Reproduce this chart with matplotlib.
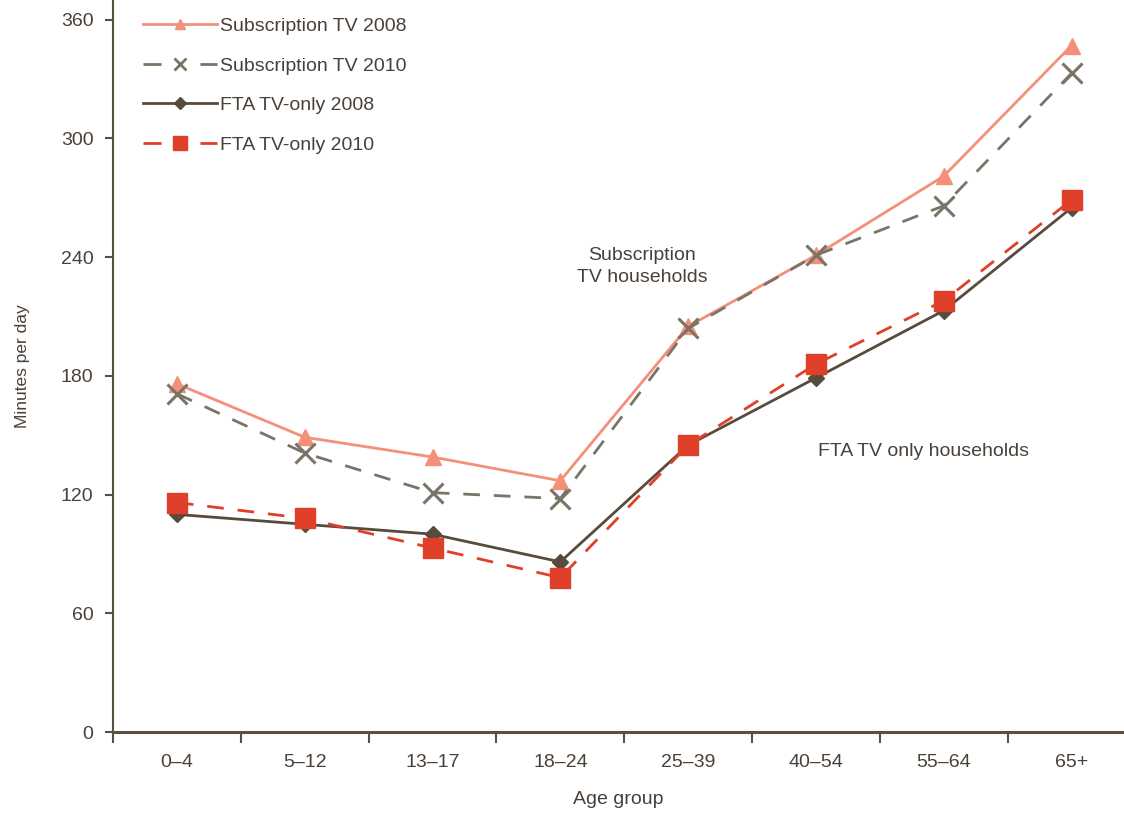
import matplotlib
matplotlib.use("Agg")
import matplotlib.pyplot as plt
from matplotlib.lines import Line2D

categories = ["0–4", "5–12", "13–17", "18–24", "25–39", "40–54", "55–64", "65+"]
sub_2008 = [176, 149, 139, 127, 205, 241, 281, 347]
sub_2010 = [171, 141, 121, 118, 204, 241, 266, 333]
fta_2008 = [110, 105, 100, 86, 145, 179, 213, 265]
fta_2010 = [116, 108, 93, 78, 145, 186, 218, 269]
yticks = [0, 60, 120, 180, 240, 300, 360]
labels = ["Subscription TV 2008", "Subscription TV 2010", "FTA TV-only 2008", "FTA TV-only 2010"]

plt.rcParams["font.family"] = ["Liberation Sans", "DejaVu Sans"]

axis_col = "#5a5040"
text_col = "#4a4038"
c_sub08 = "#f4907a"
c_sub10 = "#7a7468"
c_fta08 = "#574b3e"
c_fta10 = "#e0402a"
fs = 14

fig = plt.figure(figsize=(11.24, 8.13), dpi=100)
ax = fig.add_axes([0.1005, 0.0996, 0.8995, 0.9004])
x = list(range(len(categories)))

ax.plot(x, sub_2008, color=c_sub08, lw=2, marker="^", ms=11, mec=c_sub08, mfc=c_sub08, zorder=3)
ax.plot(x, sub_2010, color=c_sub10, lw=2, dashes=(6, 5), marker="x", ms=14, mew=2.2, zorder=4)
ax.plot(x, fta_2008, color=c_fta08, lw=2, marker="D", ms=8, mec=c_fta08, mfc=c_fta08, zorder=3)
ax.plot(x, fta_2010, color=c_fta10, lw=2, dashes=(6, 5), marker="s", ms=15, mec=c_fta10, mfc=c_fta10, zorder=4)

handles = [
    Line2D([], [], color=c_sub08, lw=2, marker="^", ms=7, mec=c_sub08, mfc=c_sub08),
    Line2D([], [], color=c_sub10, lw=2, dashes=(6.5, 14), marker="x", ms=8, mew=2),
    Line2D([], [], color=c_fta08, lw=2, marker="D", ms=6, mec=c_fta08, mfc=c_fta08),
    Line2D([], [], color=c_fta10, lw=2, dashes=(6.5, 14), marker="s", ms=10, mec=c_fta10, mfc=c_fta10),
]

ax.set_xlim(-0.5, 7.41)
ax.set_ylim(0, 370)
ax.set_yticks(yticks)
ax.set_yticklabels([str(v) for v in yticks])
ax.set_xticks(x)
ax.set_xticklabels(categories)
ax.set_xticks([i - 0.5 for i in range(8)], minor=True)

for s in ["top", "right"]:
    ax.spines[s].set_visible(False)
ax.spines["left"].set_color(axis_col)
ax.spines["left"].set_linewidth(1.5)
ax.spines["bottom"].set_color(axis_col)
ax.spines["bottom"].set_linewidth(2.2)

ax.tick_params(axis="x", which="major", length=0, pad=16, labelsize=fs, labelcolor=text_col)
ax.tick_params(axis="x", which="minor", length=8, width=1.5, color=axis_col, direction="out")
ax.tick_params(axis="y", length=6, width=1.5, color=axis_col, direction="out", pad=8,
               labelsize=fs, labelcolor=text_col)

ax.set_xlabel("Age group", fontsize=fs, color=text_col, labelpad=14)
ax.set_ylabel("Minutes per day", fontsize=12.5, color=text_col, labelpad=22)

ax.text(3.64, 235.5, "Subscription\nTV households", ha="center", va="center",
        fontsize=fs, color=text_col, linespacing=1.4)
ax.text(5.84, 142, "FTA TV only households", ha="center", va="center",
        fontsize=fs, color=text_col)

leg = ax.legend(handles, labels, loc="upper left", bbox_to_anchor=(0.012, 1.0), frameon=False,
                fontsize=fs, handlelength=3.85, handletextpad=0.15, labelspacing=1.13,
                labelcolor=text_col)

fig.savefig("out.png", dpi=100)
